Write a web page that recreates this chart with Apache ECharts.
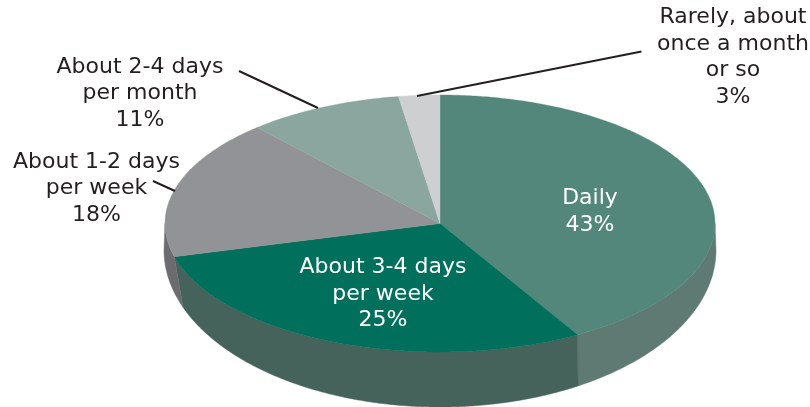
<!DOCTYPE html>
<html>
<head>
<meta charset="utf-8">
<style>html,body{margin:0;padding:0;background:#fff}#c{width:810px;height:407px}</style>
<script src="https://cdn.jsdelivr.net/npm/echarts@6/dist/echarts.min.js"></script>
</head>
<body>
<div id="c"></div>
<script>
var categories = ['Daily', 'About 3-4 days\nper week', 'About 1-2 days\nper week', 'About 2-4 days\nper month', 'Rarely, about\nonce a month\nor so'];
var shares = [43, 25, 18, 11, 3];
var topColors = ['#54877c', '#00705c', '#929396', '#8ba69f', '#cdcfd1'];
var wallColors = ['#5f7a73', '#46635b', '#6c6c70', '#6c6c70', '#6c6c70'];
var labelColors = ['#ffffff', '#ffffff', '#231f20', '#231f20', '#231f20'];
var labelCenters = [[590, 212], [383, 294], [96.5, 188.5], [140, 93.5], [733, 57.5]];
var leaders = [null, null, [[153, 181], [175, 191]], [[239, 71], [318, 108]], [[641.5, 51.5], [417, 96]]];

var top_ = {cx: 440, cy: 223.5, rx: 275, ry: 128.5};
var base = {cx: 440, cy: 250, rx: 276, ry: 157};
var tilt = 0.197;       // view distortion of the tilted pie
var baseShift = 0.112;  // lower rim runs slightly ahead on the left side
var total = shares.reduce(function (a, b) { return a + b; }, 0);
var PI = Math.PI;

function viewAngle(share) {
  var t = share / total * PI * 2;
  return t - tilt * Math.sin(t);
}
function pt(e, a) {
  return [e.cx + e.rx * Math.sin(a), e.cy - e.ry * Math.cos(a)];
}
function arc(e, a0, a1) {
  var n = Math.max(2, Math.ceil(Math.abs(a1 - a0) / 0.01)), out = [];
  for (var i = 0; i <= n; i++) out.push(pt(e, a0 + (a1 - a0) * i / n));
  return out;
}

var option = {
  animation: false,
  backgroundColor: '#ffffff',
  series: [{
    type: 'custom',
    coordinateSystem: 'none',
    silent: true,
    data: shares.map(function (v, i) { return {value: [v], name: categories[i]}; }),
    renderItem: function (params, api) {
      var i = params.dataIndex, before = 0;
      for (var k = 0; k < i; k++) before += shares[k];
      var a0 = viewAngle(before), a1 = viewAngle(before + api.value(0));
      var children = [];
      // front wall, only where the slice faces the viewer
      var w0 = Math.max(a0, PI * 0.5), w1 = Math.min(a1, PI * 1.5);
      if (w1 > w0) {
        var b0 = w0 > PI ? w0 - baseShift : w0;
        var b1 = (w1 > PI && w1 < PI * 1.5) ? w1 - baseShift : w1;
        children.push({
          type: 'polygon',
          shape: {points: arc(top_, w0, w1).concat(arc(base, b1, b0))},
          style: {fill: wallColors[i], stroke: wallColors[i], lineWidth: 0.5}
        });
      }
      children.push({
        type: 'polygon',
        z2: 5,
        shape: {points: [[top_.cx, top_.cy]].concat(arc(top_, a0, a1))},
        style: {fill: topColors[i], stroke: topColors[i], lineWidth: 0.4}
      });
      if (leaders[i]) {
        children.push({
          type: 'line',
          z2: 6,
          shape: {x1: leaders[i][0][0], y1: leaders[i][0][1], x2: leaders[i][1][0], y2: leaders[i][1][1]},
          style: {stroke: '#231f20', lineWidth: 2}
        });
      }
      children.push({
        type: 'text',
        z2: 10,
        style: {
          text: categories[i] + '\n' + shares[i] + '%',
          x: labelCenters[i][0],
          y: labelCenters[i][1],
          fill: labelColors[i],
          font: '22px "DejaVu Sans"',
          lineHeight: 26.5,
          align: 'center',
          verticalAlign: 'middle'
        }
      });
      return {type: 'group', children: children};
    }
  }]
};
var chart = echarts.init(document.getElementById('c'), null, {renderer: 'canvas'});
chart.setOption(option);
</script>
</body>
</html>
